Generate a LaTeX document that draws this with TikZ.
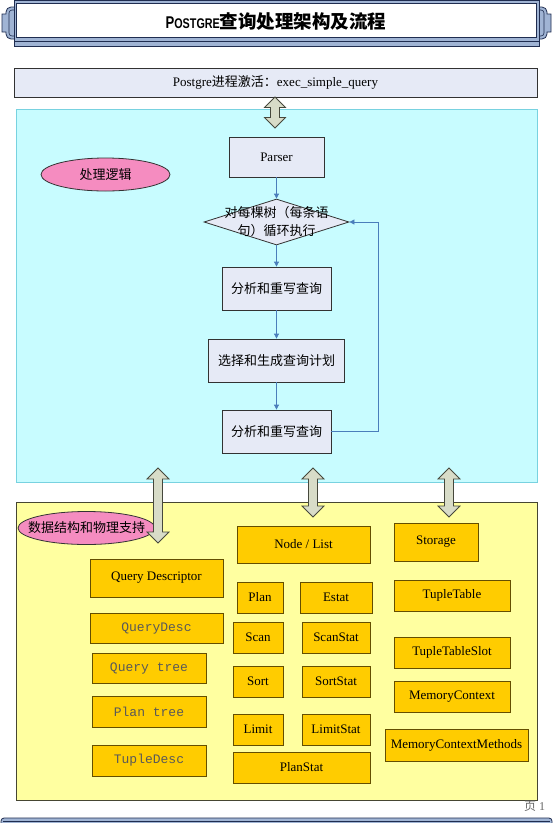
\documentclass[tikz,border=0pt]{standalone}
\usepackage{fontspec}
\usepackage{graphicx}
\setmainfont{Liberation Serif}
\setsansfont{Liberation Sans}
\setmonofont{Liberation Mono}
\newfontfamily\cjk{Noto Sans CJK SC}
\usetikzlibrary{shapes.geometric,arrows.meta}
\definecolor{navy}{RGB}{31,45,80}
\definecolor{bannerblue}{RGB}{160,180,212}
\definecolor{cyanfill}{RGB}{200,252,255}
\definecolor{cyanline}{RGB}{120,210,224}
\definecolor{yelfill}{RGB}{255,255,160}
\definecolor{yelline}{RGB}{70,70,50}
\definecolor{lav}{RGB}{230,234,246}
\definecolor{boxline}{RGB}{50,50,50}
\definecolor{flowblue}{RGB}{74,126,187}
\definecolor{pinkfill}{RGB}{245,140,192}
\definecolor{orangefill}{RGB}{255,204,0}
\definecolor{orangeline}{RGB}{100,78,0}
\definecolor{arrowfill}{RGB}{216,220,200}
\definecolor{arrowline}{RGB}{70,72,60}
\newcommand\dblarr[4]{% x, ytop, ybot, half head width
  \draw[bigarrow] (#1,#2) -- (#1+#4,#2+#4) -- (#1+4.5,#2+#4) -- (#1+4.5,#3-#4) -- (#1+#4,#3-#4) -- (#1,#3)
    -- (#1-#4,#3-#4) -- (#1-4.5,#3-#4) -- (#1-4.5,#2+#4) -- (#1-#4,#2+#4) -- cycle;}
\begin{document}
\begin{tikzpicture}[x=1pt,y=-1pt,
  sz/.style 2 args={minimum width=#1pt, minimum height=#2pt},
  lavbox/.style={draw=boxline, fill=lav, line width=0.8pt, inner sep=0pt, font=\fontsize{13}{16}\selectfont},
  obox/.style={draw=orangeline, fill=orangefill, line width=0.8pt, inner sep=0pt, font=\fontsize{13}{16}\selectfont},
  monotext/.style={font=\fontsize{13}{16}\selectfont\ttfamily, text=black!65},
  flow/.style={draw=flowblue, line width=0.8pt, -{Triangle[width=5pt,length=5pt]}},
  bigarrow/.style={draw=arrowline, fill=arrowfill, line width=0.8pt, line join=miter},
  region/.style={line width=1pt, inner sep=0pt},
  tag/.style={ellipse, draw=black!80, fill=pinkfill, line width=0.8pt, inner sep=0pt, font=\fontsize{13}{16}\selectfont\cjk}
]
\useasboundingbox (0,0) rectangle (553,823);
\fill[white] (0,0) rectangle (553,823);

% ---------- title banner ----------
\draw[navy, fill=bannerblue, line width=0.8pt] (16,7) -- (11,7) to[out=180,in=90] (6,12) -- (6,14) -- (2,14) -- (2,32) -- (6,32) -- (6,34) to[out=-90,in=180] (11,39) -- (16,39) -- cycle;
\draw[navy, line width=0.6pt] (16,10) -- (12,10) to[out=180,in=90] (9,13) -- (9,33) to[out=-90,in=180] (12,36) -- (16,36);
\begin{scope}[xshift=553pt, xscale=-1]
\draw[navy, fill=bannerblue, line width=0.8pt] (16,7) -- (11,7) to[out=180,in=90] (6,12) -- (6,14) -- (2,14) -- (2,32) -- (6,32) -- (6,34) to[out=-90,in=180] (11,39) -- (16,39) -- cycle;
\draw[navy, line width=0.6pt] (16,10) -- (12,10) to[out=180,in=90] (9,13) -- (9,33) to[out=-90,in=180] (12,36) -- (16,36);
\end{scope}
\draw[navy, fill=bannerblue, line width=0.8pt] (14,0.5) rectangle (539,46);
\draw[navy, fill=white, line width=0.8pt] (16.5,3.5) rectangle (536.5,37.5);
\draw[navy, line width=0.6pt] (14,41.5) -- (539,41.5);
\node[inner sep=0pt] (title) at (276,22)
  {\scalebox{0.77}[1]{\sffamily\bfseries\fontsize{17}{17}\selectfont P\fontsize{14}{14}\selectfont OSTGRE}{\cjk\bfseries\fontsize{18.5}{19}\selectfont 查询处理架构及流程}};

% ---------- top box ----------
\node[lavbox, sz={523}{29}] (exec) at (275.5,82.5) {Postgre{\cjk 进程激活：}exec\_simple\_query};

% ---------- regions ----------
\node[region, draw=cyanline, fill=cyanfill, sz={521}{373}] (logic) at (276.5,295.5) {};
\node[region, draw=yelline, fill=yelfill, sz={521}{298}] (data) at (276.5,651) {};

\dblarr{275}{97}{128}{10.5}

% ---------- flow ----------
\node[tag, sz={129}{33}] (tagA) at (105.5,174.5) {\makebox[0pt]{处理逻辑}};
\node[lavbox, sz={95}{40}] (parser) at (276.5,157) {Parser};
\node[lavbox, diamond, sz={145}{46}] (dia) at (276.5,222) {};
\node[inner sep=0pt, align=center, font=\fontsize{13}{18}\selectfont\cjk] (diatext) at (dia.center) {对每棵树（每条语\\句）循环执行};
\node[lavbox, sz={109}{43}] (ana1) at (276.5,288.5) {\cjk 分析和重写查询};
\node[lavbox, sz={136}{43}] (plan) at (276.5,360.5) {\cjk 选择和生成查询计划};
\node[lavbox, sz={109}{43}] (ana2) at (276.5,431.5) {\cjk 分析和重写查询};

\draw[flow] (parser) -- (dia);
\draw[flow] (dia) -- (ana1);
\draw[flow] (ana1) -- (plan);
\draw[flow] (plan) -- (ana2);
\draw[flow] (ana2.east) -- ++(47,0) |- (dia.east);

% ---------- data structures ----------
\node[tag, sz={137}{33}] (tagB) at (86.5,528) {\makebox[0pt]{数据结构和物理支持}};

\node[obox, sz={133}{38}] (qd) at (156.5,578) {Query Descriptor};
\node[obox, monotext, sz={133}{30}] (qdesc) at (156.5,628) {QueryDesc};
\node[obox, monotext, sz={114}{30}] (qtree) at (149,668) {Query tree};
\node[obox, monotext, sz={114}{31}] (ptree) at (149,711.5) {Plan tree};
\node[obox, monotext, sz={114}{31}] (tdesc) at (149,760.5) {TupleDesc};

\node[obox, sz={133}{37}] (nodelist) at (303.5,544.5) {Node / List};
\node[obox, sz={46}{31}] (nplan) at (260,597.5) {Plan};
\node[obox, sz={72}{31}] (estat) at (336,597.5) {Estat};
\node[obox, sz={50}{31}] (scan) at (258,637.5) {Scan};
\node[obox, sz={68}{31}] (scanstat) at (336,637.5) {ScanStat};
\node[obox, sz={50}{31}] (sort) at (258,681.5) {Sort};
\node[obox, sz={68}{31}] (sortstat) at (336,681.5) {SortStat};
\node[obox, sz={50}{31}] (limit) at (258,729.5) {Limit};
\node[obox, sz={68}{31}] (limitstat) at (336,729.5) {LimitStat};
\node[obox, sz={137}{31}] (planstat) at (301.5,767.5) {PlanStat};

\node[obox, sz={84}{38}] (storage) at (436,542) {Storage};
\node[obox, sz={116}{31}] (ttable) at (452,595.5) {TupleTable};
\node[obox, sz={116}{31}] (tslot) at (452,652.5) {TupleTableSlot};
\node[obox, sz={116}{31}] (memctx) at (452,696.5) {MemoryContext};
\node[obox, sz={143}{32}] (memmeth) at (456.5,745) {MemoryContextMethods};

% ---------- block arrows between layers ----------
\dblarr{158}{468}{543}{11}
\dblarr{313}{468}{517}{11}
\dblarr{449}{468}{517}{11}

% ---------- footer ----------
\node[inner sep=0pt, text=black!60, font=\fontsize{12}{14}\selectfont] (page) at (534.5,806) {{\cjk 页} 1};
\draw[navy, fill=bannerblue, line width=0.8pt, rounded corners=3pt] (1,818) rectangle (552,830);
\draw[navy, line width=0.6pt] (3,821.5) -- (550,821.5);
\end{tikzpicture}
\end{document}
